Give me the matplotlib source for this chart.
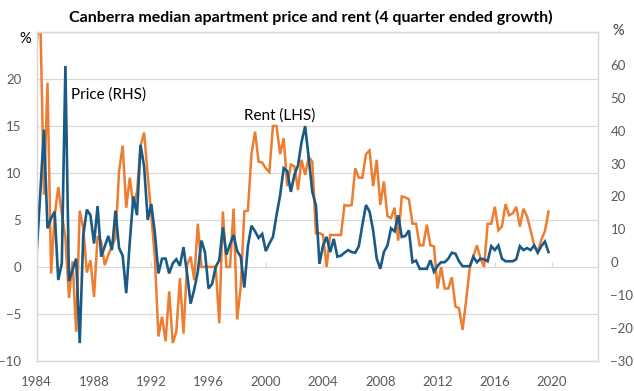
import numpy as np
import matplotlib
matplotlib.use("Agg")
import matplotlib.pyplot as plt

plt.rcParams["font.family"] = ["Lato", "DejaVu Sans"]

# 4 quarter ended growth, quarterly from 1984Q1
rent = [
    24, 26.5, 7.7, 19.6, -0.7, 5.5, 8.5, 5.6, 3.1, -3.3,
    0.6, -6.9, 6.0, 4.1, -0.6, 0.7, -3.2, 3.3, 2.7, 0.2,
    1.3, 2.2, 3.1, 10.2, 12.9, 6.3, 9.5, 6.5, 8.0, 12.9,
    14.3, 9.8, 5.5, 1.0, -7.4, -5.3, -7.9, -2.6, -8.1, -6.9,
    -1.2, -7.1, 0.2, 1.1, -1.4, 4.6, 0, 0, 0, 0,
    0, -6.0, 5.9, 0, 0, 6.2, -5.6, -2.1, 5.9, 6.0,
    12.0, 14.4, 11.2, 11.1, 10.5, 10.1, 15.0, 15.0, 12.0, 13.7,
    8.6, 10.9, 10.7, 8.2, 11.4, 9.8, 11.7, 11.2, 3.6, 3.6,
    3.4, 0, 3.4, 3.4, 3.4, 3.4, 6.6, 6.5, 6.6, 10.5,
    9.5, 9.5, 12.0, 12.4, 8.6, 11.4, 6.6, 9.1, 5.4, 5.2,
    6.3, 2.8, 7.5, 7.4, 7.2, 4.6, 4.6, 2.3, 2.3, 4.5,
    2.3, 2.2, -2.3, 0, -2.3, -2.3, -1.1, -4.2, -4.4, -6.7,
    -3.5, -0.1, 1.1, 2.3, 0.9, 0, 4.6, 4.6, 6.4, 3.9,
    4.3, 6.7, 5.5, 5.7, 6.4, 4.3, 6.2, 5.4, 3.9, 2.3,
    1.6, 2.9, 3.8, 5.9,
]

price = [
    3.4, 21.4, 40.3, 10.3, 13.4, 15.4, -5.4, -0.3, 59.7, -5.7,
    -2.3, 1.1, -24.6, 8.3, 16.0, 14.3, 5.7, 17.1, 1.7, 4.9,
    8.0, 3.7, 15.7, 4.3, 2.0, -9.4, 6.3, 20.0, 14.3, 35.7,
    29.1, 12.9, 17.7, 8.9, -3.4, 1.1, 1.1, -3.4, -0.3, 0.9,
    -1.1, 4.6, -3.4, -12.6, -8.3, -2.9, 6.6, 3.1, -8.0, -6.6,
    -1.4, 0.6, 10.6, 2.3, 5.4, 8.3, 3.4, 1.7, -7.7, 4.9,
    11.1, 9.4, 7.4, 8.6, 3.4, 5.7, 7.7, 14.3, 20.3, 28.6,
    27.7, 21.4, 26.6, 29.4, 36.6, 41.4, 31.7, 21.4, 17.4, -0.5,
    5.1, 7.7, 3.1, 7.1, 1.7, 2.0, 2.9, 3.7, 3.1, 2.9,
    4.9, 11.4, 17.4, 15.4, 9.7, 1.1, -2.0, 3.1, 5.1, 10.3,
    9.4, 14.3, 7.7, 8.0, 9.7, 0.0, 0.5, -2.0, -2.0, -2.0,
    0.6, -2.9, -1.1, 0.0, 0.0, 1.1, 2.9, 2.6, 0.3, -1.2,
    -1.2, -1.2, 1.7, 0.0, 1.1, 0.9, 0.3, 4.9, 3.7, 5.1,
    1.1, 0.3, 0.3, 0.3, 0.9, 4.9, 3.7, 4.3, 3.7, 5.1,
    2.9, 4.9, 6.3, 3.1,
]

dates = 1984 + np.arange(len(rent)) / 4
year_ticks = list(range(1984, 2021, 4))
left_ticks = [-10, -5, 0, 5, 10, 15, 20]
right_ticks = [-30, -20, -10, 0, 10, 20, 30, 40, 50, 60]

ORANGE = "#ED7D31"
BLUE = "#1B5A85"
GRID = "#D9D9D9"
LABEL = "#595959"

fig = plt.figure(figsize=(6.34, 3.91), dpi=100)
ax = fig.add_axes([0.058, 0.077, 0.885, 0.841])
ax2 = ax.twinx()

ax.plot(dates, rent, color=ORANGE, lw=1.8, solid_joinstyle="miter")
ax2.plot(dates, price, color=BLUE, lw=1.9, solid_joinstyle="miter")

ax.set_xlim(1984, 2023.2)
ax.set_ylim(-10, 25)
ax2.set_ylim(-30, 70)

ax.set_yticks(left_ticks)
ax2.set_yticks(right_ticks)
ax.set_xticks(year_ticks)
ax.yaxis.grid(True, color=GRID, lw=0.9)
ax.axhline(25, color=GRID, lw=0.9)
ax.set_axisbelow(True)

# small tick marks on the zero line
ax.vlines(year_ticks, 0, 0.5, color=GRID, lw=0.9, zorder=1)

for a in (ax, ax2):
    for s in a.spines.values():
        s.set_color(GRID)
        s.set_linewidth(0.9)
    a.tick_params(length=0, labelsize=9.5, labelcolor=LABEL)
ax.tick_params(axis="y", pad=11)
ax2.tick_params(axis="y", pad=9)
ax.tick_params(axis="x", pad=11)

ax.text(-0.011, 0.98, "%", transform=ax.transAxes, ha="right", va="center",
        fontsize=10.5, color="black")
ax2.text(1.025, 1.003, "%", transform=ax.transAxes, ha="left", va="center",
         fontsize=10.5, color="#404040")

ax.text(1986.4, 18.4, "Price (RHS)", fontsize=11, ha="left", va="center")
ax.text(1998.5, 16.1, "Rent (LHS)", fontsize=11, ha="left", va="center")

fig.text(0.49, 0.955, "Canberra median apartment price and rent (4 quarter ended growth)",
         ha="center", va="center", fontsize=11.5, fontweight="bold")

fig.savefig("out.png", dpi=100)
